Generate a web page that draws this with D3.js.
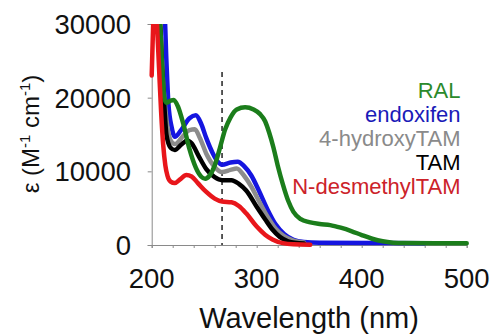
<!DOCTYPE html>
<html><head><meta charset="utf-8">
<script src="https://cdn.jsdelivr.net/npm/d3@7"></script>
<style>
html,body{margin:0;padding:0;background:#fff;}
svg{display:block;font-family:"Liberation Sans",Arial,sans-serif;}
</style></head>
<body><svg id="c" width="491" height="335"></svg>
<script>
// ---- data ----
const seriesNames = ["RAL","endoxifen","4-hydroxyTAM","TAM","N-desmethylTAM"];
const seriesColors = ["#1b7d1b","#1515e0","#8c8c8c","#000000","#e8161b"];
const legendColors = ["#2b8a2b","#1a1ab8","#8a8a8a","#000000","#cc2229"];

const ralWl  = [205,208,210,212,214,218,221,225,230,236,242,247,251,255,260,265,270,275,281,289,297,303,308,312,316,320,325,330,335,342,350,360,370,380,390,400,410,420,430,440,470,500];
const ralEps = [33000,30000,24000,20000,19300,19600,19700,18800,16500,13000,10500,9300,9000,9400,10800,13200,15700,17300,18400,18700,18400,17800,16800,15200,13200,10800,8200,6000,4500,3500,3100,2850,2700,2350,1900,1350,850,500,320,260,250,250];

const endoWl  = [205,212,214,216,219,222,228,236,242,247,252,258,263,267,275,282,288,295,302,310,318,326,335,345,360,420,460];
const endoEps = [33000,32000,25000,19000,16000,14700,15600,17200,17600,16500,14500,12500,11300,10900,11200,11300,10700,9400,7400,4900,2800,1500,700,400,300,260,250];

const hydWl  = [205,208,210,212,215,218,222,230,236,241,246,252,260,267,275,281,288,295,302,310,318,326,335,345];
const hydEps = [33000,30000,24000,20000,16000,14200,13700,14800,15600,15700,14500,12400,10600,9900,10200,10400,9400,7900,6000,3900,2200,1200,600,350];

const tamWl  = [205,208,210,212,214,218,222,228,234,238,245,252,260,267,276,283,290,300,308,315,322,330,345];
const tamEps = [33000,30000,24000,19000,15000,13200,12900,13600,14200,13800,12000,10300,9200,8800,8800,8300,7400,5200,3500,2100,1100,500,200];

const ndmWl  = [200,201,202,203.5,205,207,209,211,213,215,218,222,227,233,238,244,252,260,267,276,283,290,300,308,315,325,335,351];
const ndmEps = [23000,28000,32000,33000,30000,24000,18000,13500,10800,9400,8600,8400,8900,9500,9300,8400,7200,6300,5900,5800,5300,4300,2500,1400,750,250,100,50];

const xTicks = [200,300,400,500];
const yTicks = [0,10000,20000,30000];
const markerWl = 267;
const markerTop = 23500;

// ---- layout ----
const svg = d3.select("#c");
const x = d3.scaleLinear().domain([200,500]).range([151.7,466.7]);
const y = d3.scaleLinear().domain([0,30000]).range([245,24]);

svg.append("defs").append("clipPath").attr("id","clip")
  .append("rect").attr("x",140).attr("y",y(30000)).attr("width",340).attr("height",y(0)-y(30000)+10);

// axes
const axisColor = "#8a8a8a";
const gx = svg.append("g").attr("transform",`translate(0,${y(0)})`)
  .call(d3.axisBottom(x).tickValues(d3.range(200,501,20)).tickSize(3).tickFormat(""));
gx.selectAll("path,line").attr("stroke",axisColor).attr("stroke-width",1);
const gy = svg.append("g").attr("transform",`translate(${x(200)},0)`)
  .call(d3.axisLeft(y).tickValues(yTicks).tickSize(4).tickFormat(""));
gy.selectAll("path,line").attr("stroke",axisColor).attr("stroke-width",1);

// tick labels
svg.append("g").selectAll("text").data(xTicks).join("text")
  .attr("x",d=>x(d)).attr("y",288).attr("text-anchor","middle")
  .attr("font-size",27.5).attr("fill","#111").text(d=>d);
svg.append("g").selectAll("text").data(yTicks).join("text")
  .attr("x",131).attr("y",d=>y(d)+10).attr("text-anchor","end")
  .attr("font-size",27.5).attr("fill","#111").text(d=>d);

// axis titles
svg.append("text").attr("x",309).attr("y",328).attr("text-anchor","middle")
  .attr("font-size",29).attr("fill","#111").text("Wavelength (nm)");
const yl = svg.append("text").attr("transform","translate(39,134) rotate(-90)")
  .attr("text-anchor","middle").attr("font-size",24).attr("fill","#111");
yl.append("tspan").text("ε (M");
yl.append("tspan").attr("dy",-9).attr("font-size",15).text("-1");
yl.append("tspan").attr("dy",9).text(" cm");
yl.append("tspan").attr("dy",-9).attr("font-size",15).text("-1");
yl.append("tspan").attr("dy",9).text(")");

// dashed marker
svg.append("line").attr("x1",x(markerWl)).attr("x2",x(markerWl))
  .attr("y1",y(markerTop)).attr("y2",y(0))
  .attr("stroke","#222").attr("stroke-width",1.5).attr("stroke-dasharray","5,4");

// curves
const line = d3.line().x(d=>x(d[0])).y(d=>y(d[1])).curve(d3.curveMonotoneX);
const series = [
  {i:1, wl:endoWl, eps:endoEps},
  {i:2, wl:hydWl, eps:hydEps},
  {i:3, wl:tamWl, eps:tamEps},
  {i:0, wl:ralWl, eps:ralEps},
  {i:4, wl:ndmWl, eps:ndmEps}
];
const cg = svg.append("g").attr("clip-path","url(#clip)");
series.forEach(s=>{
  cg.append("path").datum(s.wl.map((w,k)=>[w,s.eps[k]]))
    .attr("d",line).attr("fill","none").attr("stroke",seriesColors[s.i])
    .attr("stroke-width",4.5).attr("stroke-linejoin","round").attr("stroke-linecap","round");
});

// legend
svg.append("g").selectAll("text").data(seriesNames).join("text")
  .attr("x",460.5).attr("y",(d,k)=>98+k*24).attr("text-anchor","end")
  .attr("font-size",22).attr("fill",(d,k)=>legendColors[k]).text(d=>d);
</script></body></html>
